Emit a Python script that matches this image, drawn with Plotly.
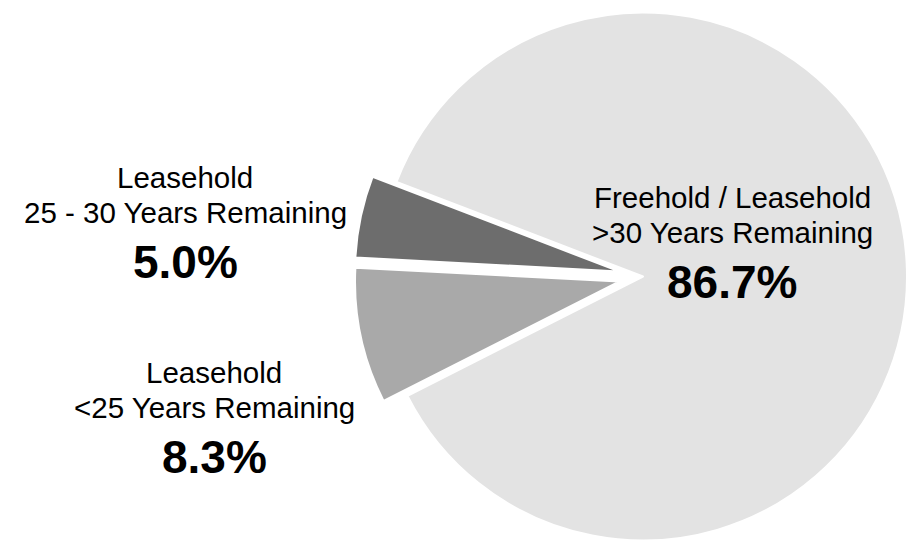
import math
import plotly.graph_objects as go

# ---- data ----
categories = [
    "Freehold / Leasehold >30 Years Remaining",
    "Leasehold <25 Years Remaining",
    "Leasehold 25 - 30 Years Remaining",
]
values = [86.7, 8.3, 5.0]
label_lines = [
    ["Freehold / Leasehold", ">30 Years Remaining"],
    ["Leasehold", "<25 Years Remaining"],
    ["Leasehold", "25 - 30 Years Remaining"],
]

# ---- style / layout ----
colors = ["#e3e3e3", "#a9a9a9", "#6d6d6d"]
W, H = 907, 546
CX, CY = 643.0, 276.5      # pie centre in px (from top-left)
R = 264.0                  # radius in px
ROT = -69                  # start angle (deg, clockwise from 12 o'clock)
pull_px = [0, 24.5, 24.5]  # explode distance of each slice
FONT = "Liberation Sans, Arial, sans-serif"
REG, BOLD = 29.5, 46
# label anchor: (centre x, baseline of first line) in px
label_pos = [(732, 208), (214, 383), (185, 188)]
LINE_GAP, PCT_GAP = 35, 55

fig = go.Figure()
total = sum(values)
start = ROT
for i in range(len(values)):
    span = values[i] / total * 360.0
    mid = math.radians(start + span / 2.0)
    start += span
    cx = CX + pull_px[i] * math.sin(mid)
    cy = CY - pull_px[i] * math.cos(mid)
    dx = [max(0.0, (cx - R) / W), min(1.0, (cx + R) / W)]
    dy = [max(0.0, 1 - (cy + R) / H), min(1.0, 1 - (cy - R) / H)]
    fig.add_trace(go.Pie(
        labels=categories,
        values=values,
        sort=False,
        direction="clockwise",
        rotation=ROT,
        domain=dict(x=dx, y=dy),
        marker=dict(
            colors=[colors[j] if j == i else "rgba(0,0,0,0)" for j in range(len(values))],
            line=dict(color="white", width=[2 if j == i else 0 for j in range(len(values))]),
        ),
        textinfo="none",
        hoverinfo="skip",
        showlegend=False,
    ))

annotations = []
for i, (lx, ly) in enumerate(label_pos):
    lines = label_lines[i]
    for k, t in enumerate(lines):
        base = ly + k * LINE_GAP
        annotations.append(dict(
            x=lx / W, y=1 - (base - 0.35 * REG) / H, xref="paper", yref="paper",
            text=t, showarrow=False, xanchor="center", yanchor="middle",
            font=dict(family=FONT, size=REG, color="#000000"),
        ))
    base = ly + (len(lines) - 1) * LINE_GAP + PCT_GAP
    annotations.append(dict(
        x=lx / W, y=1 - (base - 0.35 * BOLD) / H, xref="paper", yref="paper",
        text="<b>%.1f%%</b>" % values[i], showarrow=False, xanchor="center", yanchor="middle",
        font=dict(family=FONT, size=BOLD, color="#000000"),
    ))

fig.update_layout(
    width=W, height=H,
    margin=dict(l=0, r=0, t=0, b=0),
    paper_bgcolor="white", plot_bgcolor="white",
    annotations=annotations,
    showlegend=False,
)

fig.write_html(
    "out.html",
    config={"displayModeBar": False},
    post_script="document.body.style.margin='0';document.body.style.overflow='hidden';",
)
